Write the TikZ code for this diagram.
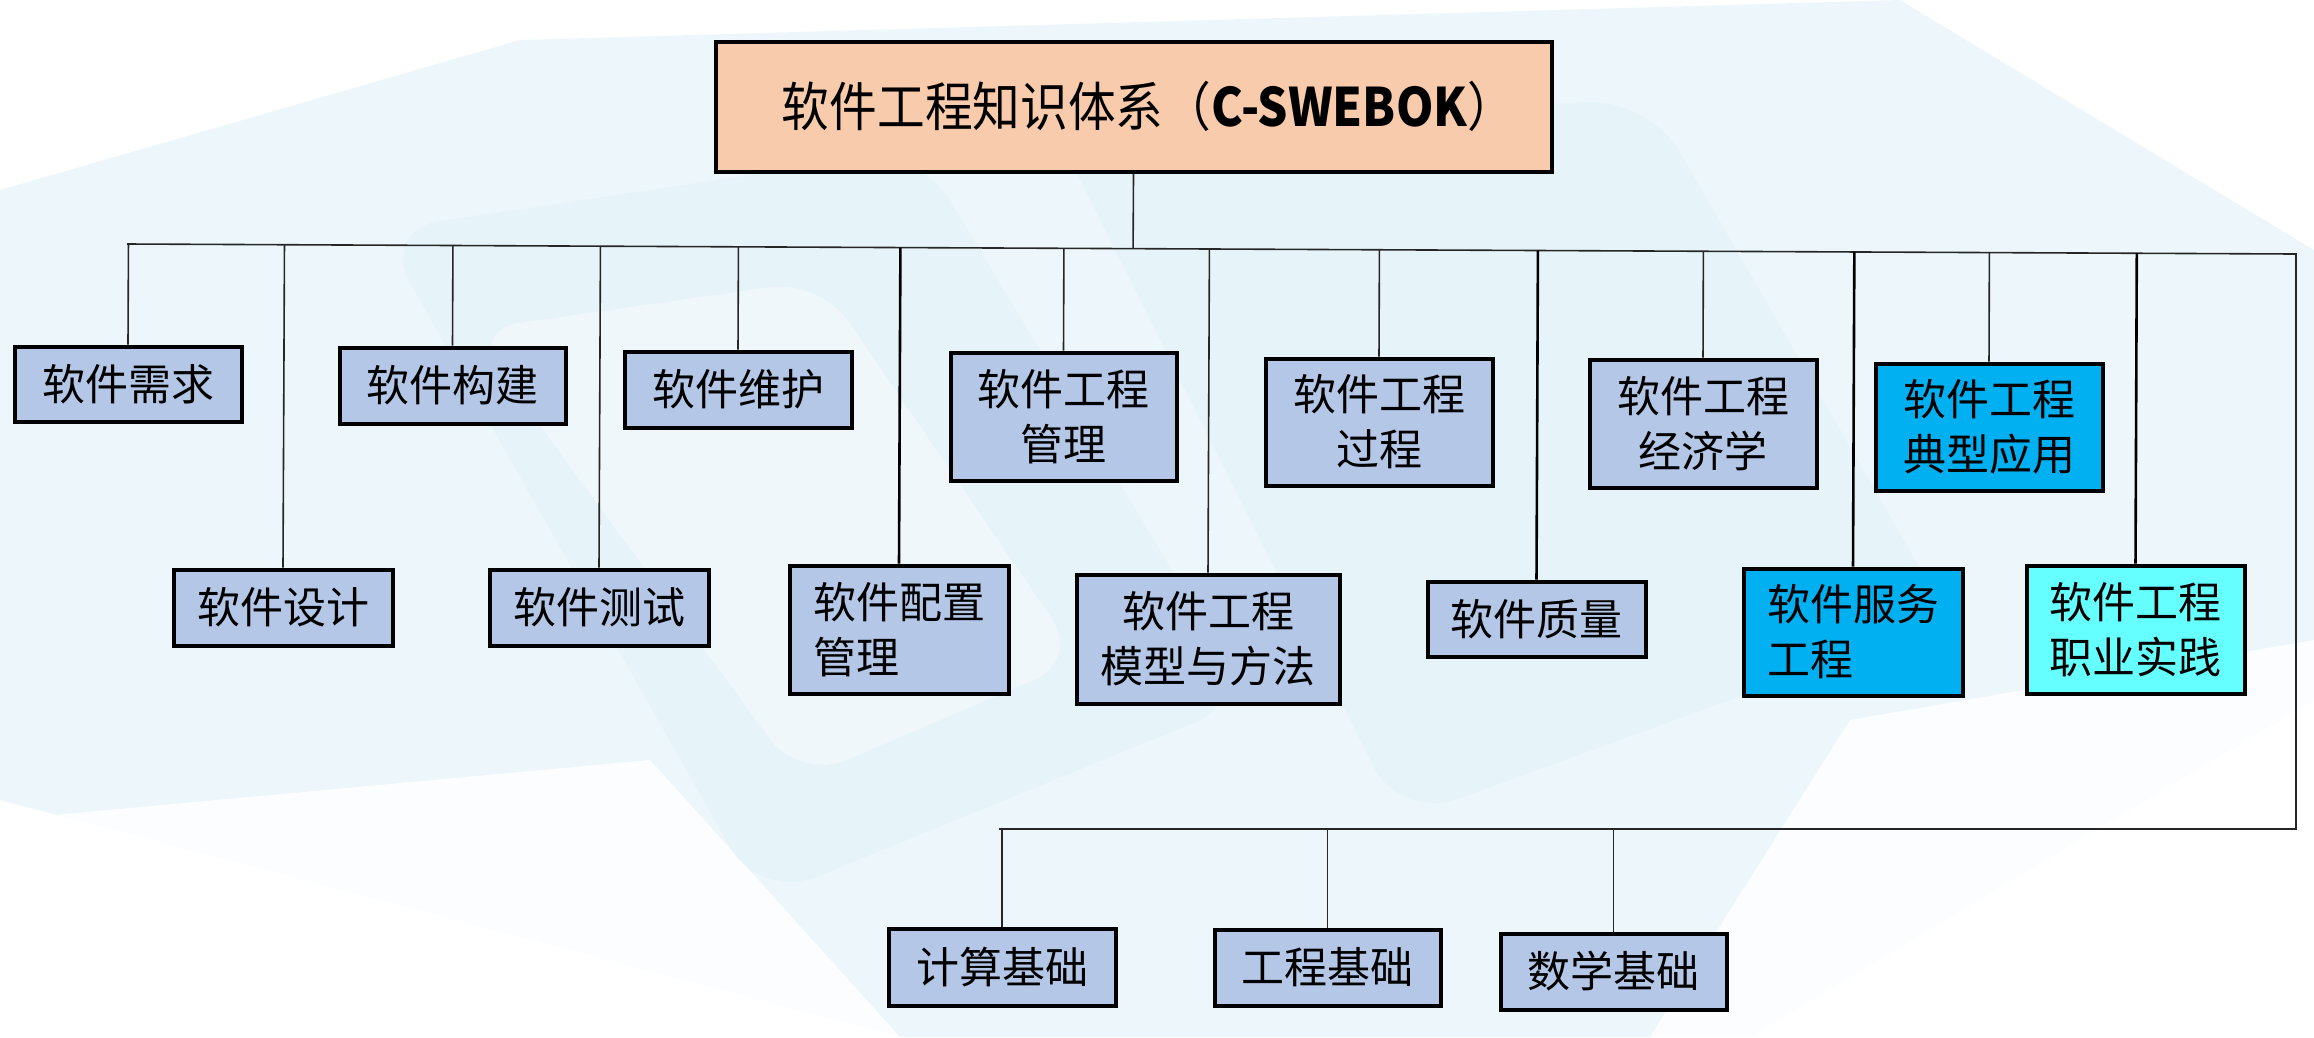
\documentclass[tikz,border=0pt]{standalone}
\usepackage{fontspec}
\setmainfont{Noto Sans CJK SC}
\newfontfamily\rootfont[FakeStretch=0.9]{Noto Sans CJK SC}
\usetikzlibrary{calc}
\definecolor{boxblue}{HTML}{B4C7E7}
\definecolor{rootpeach}{HTML}{F8CBAD}
\definecolor{svcblue}{HTML}{00B0F0}
\definecolor{praccyan}{HTML}{66FFFF}
\definecolor{wash}{HTML}{E8F5FA}
\definecolor{washdark}{HTML}{D9EEF7}
\tikzset{
  kbox/.style={draw=black, line width=4pt, fill=boxblue, inner sep=0pt,
    font=\fontsize{43}{55}\selectfont, align=center},
  rootbox/.style={kbox, fill=rootpeach, font=\rootfont\fontsize{53}{60}\selectfont},
  wire/.style={line width=1.6pt, black!85},
  thickwire/.style={line width=2.6pt, black},
}
\begin{document}
\begin{tikzpicture}[x=1pt,y=-1pt]
\useasboundingbox (0,0) rectangle (2314,1037);
% faint background
\fill[white] (0,0) rectangle (2314,1037);
\fill[wash, opacity=0.75] (0,190) -- (520,40) -- (1900,0) -- (2314,250) -- (2314,700) -- (1750,1037) -- (900,1037) -- (0,800) -- cycle;
\fill[white, opacity=0.8] (0,820) -- (650,760) -- (900,1037) -- (0,1037) -- cycle;
\fill[white, opacity=0.8] (1850,720) -- (2314,640) -- (2314,1037) -- (1650,1037) -- cycle;
\fill[white, opacity=0.5] (1900,0) -- (2314,0) -- (2314,250) -- cycle;
\fill[washdark, opacity=0.35, rounded corners=60pt] (380,230) -- (920,150) -- (1250,700) -- (760,900) -- cycle;
\fill[washdark, opacity=0.3, rounded corners=60pt] (1050,120) -- (1650,100) -- (1950,620) -- (1400,820) -- cycle;
\fill[white, opacity=0.4, rounded corners=50pt] (470,330) -- (820,280) -- (1080,660) -- (800,780) -- cycle;

% root
\node[rootbox, minimum width=836pt, minimum height=130pt] (root) at (1133.5,106.5)
  {\hspace*{30pt}软件工程知识体系（{\bfseries C-SWEBOK}）};

% top row
\node[kbox, minimum width=227pt, minimum height=75pt] (req)   at (128,384)    {软件需求};
\node[kbox, minimum width=226pt, minimum height=76pt] (build) at (452.5,385.5) {软件构建};
\node[kbox, minimum width=227pt, minimum height=76pt] (maint) at (738,389.5)  {软件维护};
\node[kbox, minimum width=226pt, minimum height=128pt] (mgmt) at (1063.5,416.5) {软件工程\\管理};
\node[kbox, minimum width=227pt, minimum height=127pt] (proc) at (1379,422)   {软件工程\\过程};
\node[kbox, minimum width=227pt, minimum height=128pt] (econ) at (1703,423.5)  {软件工程\\经济学};
\node[kbox, fill=svcblue, minimum width=227pt, minimum height=127pt] (app) at (1989,427) {软件工程\\典型应用};

% lower row
\node[kbox, minimum width=219pt, minimum height=76pt] (design)  at (283,607.5) {软件设计};
\node[kbox, minimum width=219pt, minimum height=76pt] (test)    at (599,607.5) {软件测试};
\node[kbox, align=left, minimum width=219pt, minimum height=128pt] (config) at (899,629.5) {软件配置\\管理};
\node[kbox, minimum width=263pt, minimum height=129pt] (model)   at (1208,639) {软件工程\\模型与方法};
\node[kbox, minimum width=218pt, minimum height=75pt] (quality) at (1536.5,619) {软件质量};
\node[kbox, align=left, fill=svcblue, minimum width=219pt, minimum height=127pt] (service) at (1853,632) {软件服务\\工程};
\node[kbox, fill=praccyan, minimum width=218pt, minimum height=128pt] (practice) at (2135.5,629.5) {软件工程\\职业实践};

% bottom row
\node[kbox, minimum width=227pt, minimum height=77pt] (comp) at (1002,967)   {计算基础};
\node[kbox, minimum width=226pt, minimum height=76pt] (engf) at (1327.5,967.5) {工程基础};
\node[kbox, minimum width=226pt, minimum height=76pt] (math) at (1613.5,971.5) {数学基础};

% buses
\coordinate (busL) at (127,244);
\coordinate (busR) at (2296,254);
\coordinate (bbR) at (2296,829);
\coordinate (bbL) at (999,829);
\draw[wire] (busL) -- (busR) -- (bbR) -- (bbL);
\draw[wire] (root.south) -- ($(busL)!(root.south)!(busR)$);

\foreach \n in {req,build,maint,mgmt,proc,econ,app,design,test,model}
  \draw[wire] ($(busL)!(\n.north)!(busR)$) -- (\n.north);
\foreach \n in {config,quality,service,practice}
  \draw[thickwire] ($(busL)!(\n.north)!(busR)$) -- (\n.north);
\foreach \n in {comp,engf,math}
  \draw[wire] (\n.north |- bbL) -- (\n.north);
\end{tikzpicture}
\end{document}
